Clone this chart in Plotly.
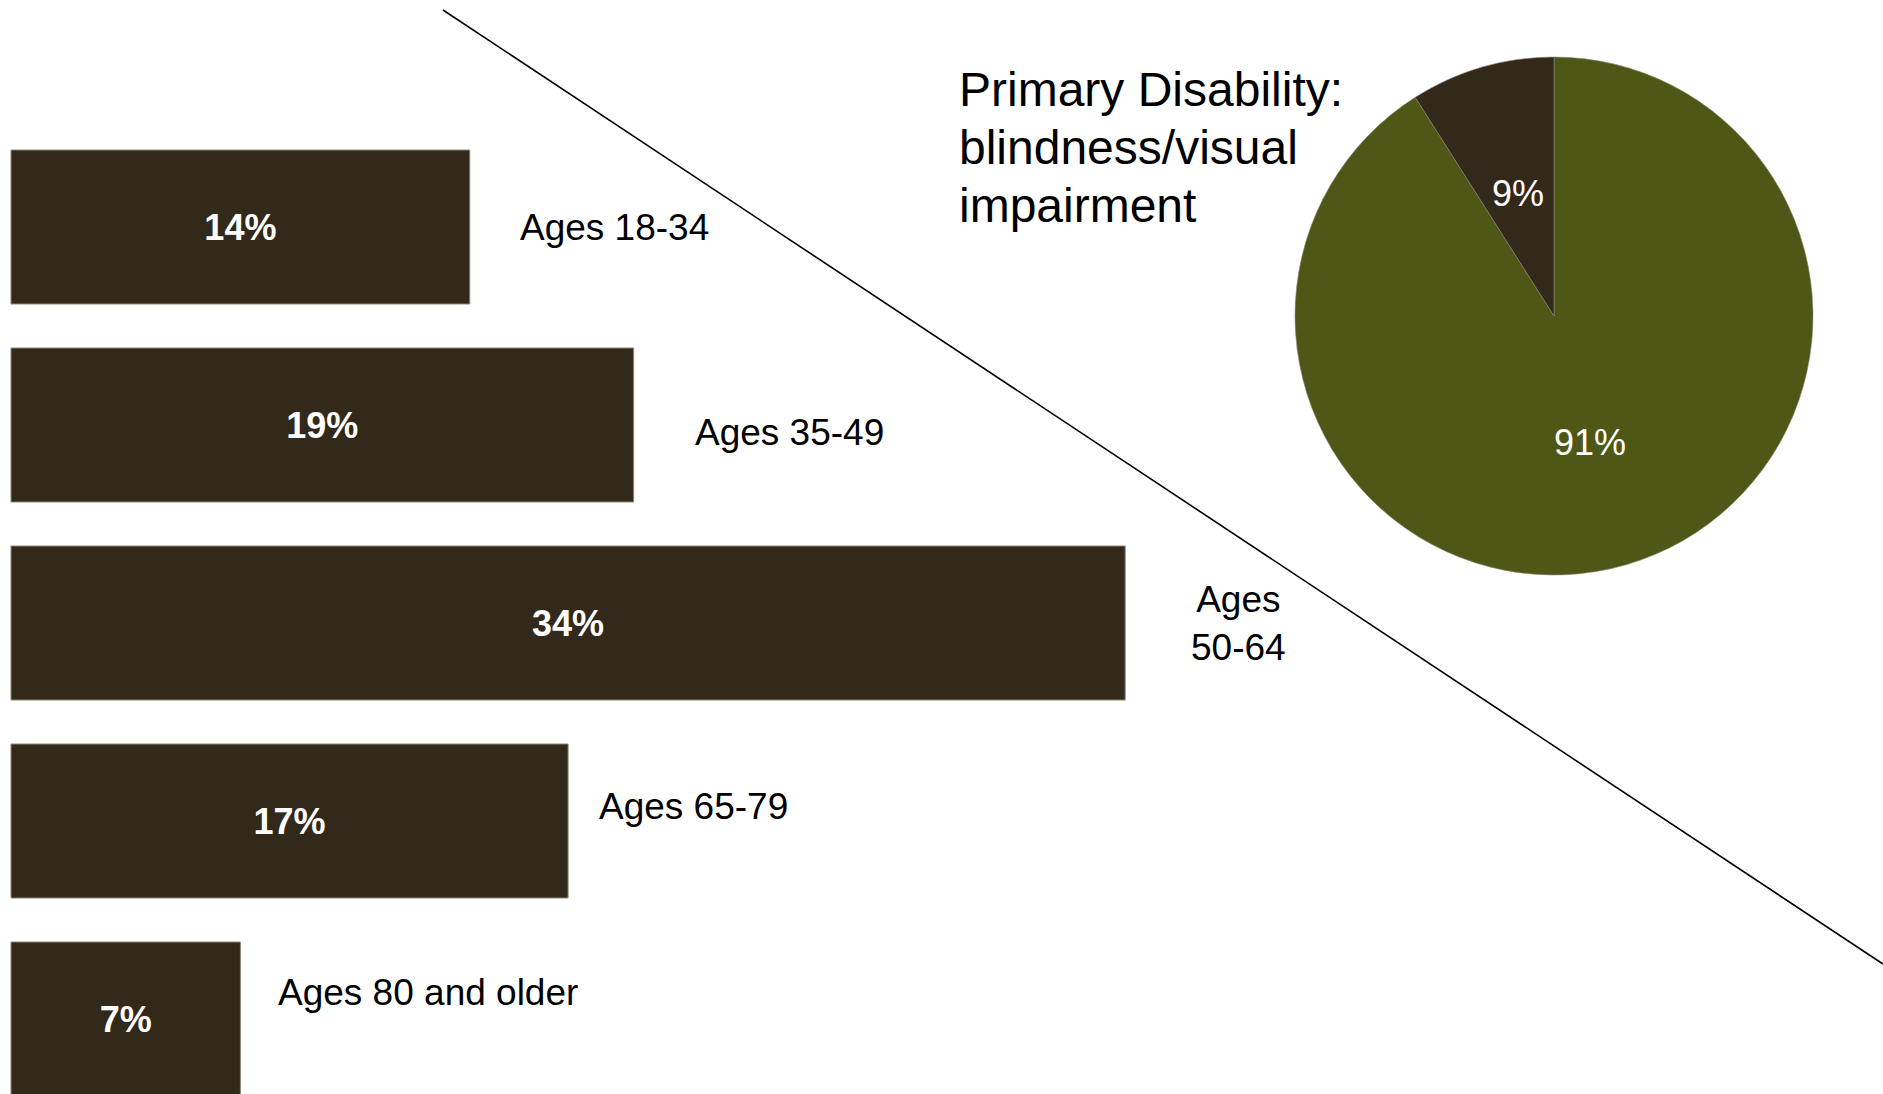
import math
import plotly.graph_objects as go

# Age distribution (share of people, %)
age_groups = ["Ages 18-34", "Ages 35-49", "Ages 50-64", "Ages 65-79", "Ages 80 and older"]
age_share = [14, 19, 34, 17, 7]
age_label_text = ["Ages 18-34", "Ages 35-49", "Ages<br>50-64", "Ages 65-79", "Ages 80 and older"]

# Primary disability split (%), drawn clockwise from 12 o'clock
disability_labels = ["Blindness/visual impairment", "Other"]
disability_share = [91, 9]
disability_colors = ["#4e5715", "#32291a"]

heading_lines = ["Primary Disability:", "blindness/visual", "impairment"]

W, H = 1883, 1094
FONT = "Liberation Sans, Arial, Helvetica, sans-serif"
DARK = "#32291a"

PX_PER_PCT = 32.77
LEFT_PX = 11
BAR_PITCH = 198.0
FIRST_BAR_CENTER = 227.0

rows = list(range(len(age_groups)))

fig = go.Figure()

fig.add_trace(go.Bar(
    x=age_share,
    y=rows,
    orientation="h",
    width=154 / BAR_PITCH,
    marker=dict(color=DARK, line=dict(color="#8c8676", width=1)),
    text=[f"{v}%" for v in age_share],
    textposition="inside",
    insidetextanchor="middle",
    textangle=0,
    textfont=dict(family=FONT, size=36, color="white", weight="bold"),
    hovertext=age_groups,
    showlegend=False,
    cliponaxis=True,
))

# Pie placement (pixels)
pie_cx, pie_cy, pie_r = 1554, 316, 259
fig.add_trace(go.Pie(
    labels=disability_labels,
    values=disability_share,
    sort=False,
    direction="clockwise",
    rotation=0,
    marker=dict(colors=disability_colors, line=dict(color="#8c8676", width=0.6)),
    textinfo="none",
    domain=dict(x=[(pie_cx - pie_r) / W, (pie_cx + pie_r) / W],
                y=[1 - (pie_cy + pie_r) / H, 1 - (pie_cy - pie_r) / H]),
    showlegend=False,
))

annotations = []

# Category labels to the right of each bar
label_dx = [48, 59, 64, 29, 36]
label_dy = [0, -7, 0, 15, 27]
for i, (v, t) in enumerate(zip(age_share, age_label_text)):
    annotations.append(dict(
        x=v, y=i, xref="x", yref="y", text=t, showarrow=False,
        xanchor="left", yanchor="middle", align="center",
        xshift=label_dx[i], yshift=label_dy[i],
        font=dict(family=FONT, size=37, color="black"),
    ))

# Percentage labels inside the pie, half way out along each slice bisector
total = sum(disability_share)
cum = 0
for v in disability_share:
    theta = 2 * math.pi * (cum + v / 2) / total
    cum += v
    annotations.append(dict(
        x=pie_cx / W, y=1 - pie_cy / H, xref="paper", yref="paper",
        text=f"{round(100 * v / total)}%", showarrow=False,
        xanchor="center", yanchor="middle",
        xshift=math.sin(theta) * 0.5 * pie_r,
        yshift=math.cos(theta) * 0.5 * pie_r - 2,
        font=dict(family=FONT, size=36, color="white"),
    ))

# Pie heading, one line at a time
for k, line in enumerate(heading_lines):
    annotations.append(dict(
        x=957 / W, y=1 - (90 + 57.5 * k) / H, xref="paper", yref="paper",
        text=line, showarrow=False, xanchor="left", yanchor="middle",
        font=dict(family=FONT, size=48, color="black"),
    ))

fig.update_layout(
    width=W, height=H,
    margin=dict(l=0, r=0, t=0, b=0),
    paper_bgcolor="white",
    plot_bgcolor="white",
    xaxis=dict(range=[-LEFT_PX / PX_PER_PCT, (W - LEFT_PX) / PX_PER_PCT],
               visible=False, fixedrange=True),
    yaxis=dict(range=[(H - FIRST_BAR_CENTER) / BAR_PITCH, -FIRST_BAR_CENTER / BAR_PITCH],
               visible=False, fixedrange=True),
    annotations=annotations,
    shapes=[dict(type="line", xref="paper", yref="paper",
                 x0=443 / W, y0=1 - 10 / H, x1=1.0, y1=1 - 964 / H,
                 line=dict(color="black", width=1.6))],
)

fig.write_html("out.html")
